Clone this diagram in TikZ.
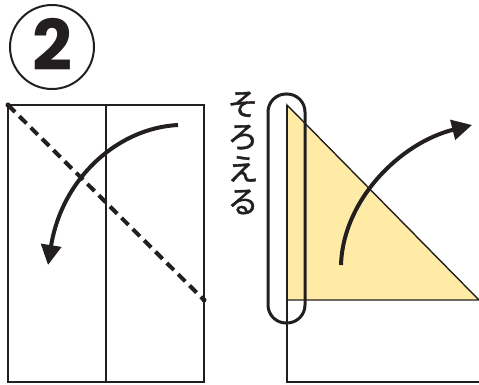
\documentclass[tikz,border=0pt]{standalone}
\usepackage{fontspec}
\newfontfamily\jpfont{Noto Sans CJK JP}[FakeBold=1.2]
\newfontfamily\numfont{Poppins}
\usetikzlibrary{arrows.meta}
\definecolor{paperyellow}{HTML}{FFEBA6}
\definecolor{inkblack}{HTML}{231F20}

\begin{document}
\begin{tikzpicture}[x=1pt, y=-1pt,
    sheet/.style={draw=inkblack, line width=1.4pt},
    foldline/.style={draw=inkblack, line width=4pt, dash pattern=on 10pt off 6pt},
    endpoint/.style={circle, fill=inkblack, inner sep=0pt, minimum size=5pt},
    turn/.style={draw=inkblack, line width=4pt, -{Triangle[length=20pt, width=20pt]}},
    marker/.style={draw=inkblack, line width=3pt, rounded corners=18pt},
    label/.style={text=inkblack, align=center, inner sep=0pt}]

    \useasboundingbox (0,0) rectangle (479,385);

    % --- Step number ---
    \node[draw=inkblack, line width=2pt, circle, minimum size=84pt, inner sep=0pt] (stepno) at (52,47) {};
    \node[label, font=\numfont\bfseries\fontsize{70}{70}\selectfont] (stepnum) at (52,44) {2};

    % --- Left sheet ---
    \coordinate (ltl) at (8,105);
    \coordinate (lbr) at (204,382);
    \draw[sheet] (ltl) rectangle (lbr);
    \coordinate (lmidtop) at (106,105);
    \coordinate (lmidbot) at (106,382);
    \draw[sheet] (lmidtop) -- (lmidbot);

    % dashed fold line
    \node[endpoint] (fold_a) at (8,105) {};
    \node[endpoint] (fold_b) at (204,300) {};
    \draw[foldline] (fold_a.center) -- (fold_b.center);

    % fold arrow
    \coordinate (larr_s) at (178,125);
    \coordinate (larr_e) at (48,265);
    \draw[turn] (larr_s) .. controls (118,128) and (62,178) .. (larr_e);

    % --- Right sheet ---
    \coordinate (rtop) at (287,105);
    \coordinate (rcorner) at (287,300);
    \coordinate (rtip) at (479,300);
    \filldraw[sheet, fill=paperyellow] (rtop) -- (rcorner) -- (rtip) -- cycle;
    \coordinate (rbot) at (287,382);
    \coordinate (rbotright) at (479,382);
    \draw[sheet] (rtop) -- (rbot) -- (rbotright);

    % align marker
    \coordinate (mk_tl) at (268,94);
    \coordinate (mk_br) at (305,323);
    \draw[marker] (mk_tl) rectangle (mk_br);
    \node[label, font=\jpfont\fontsize{31}{32.5}\selectfont] (align) at (243,153) {そ\\ろ\\え\\る};

    % unfold arrow
    \coordinate (rarr_s) at (341,265);
    \coordinate (rarr_e) at (472,125);
    \draw[turn] (rarr_s) .. controls (343,200) and (400,143) .. (rarr_e);

\end{tikzpicture}
\end{document}
